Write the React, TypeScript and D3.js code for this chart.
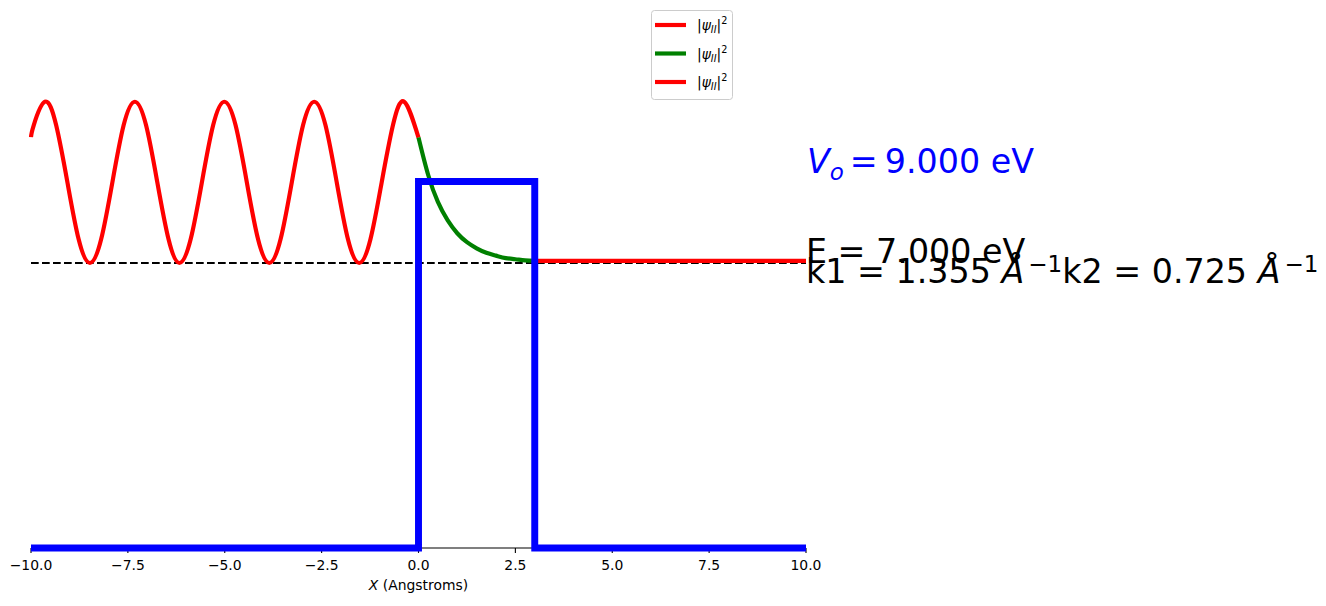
import React from "react";
import * as d3 from "d3";

// ---- data ----
const V0 = 9.0; // eV
const E = 7.0; // eV
const k1 = 1.355;
const k2 = 0.725;

// potential outline (x in Å, V in eV)
const potX = [-10, 0, 0, 3, 3, 10];
const potV = [0, 0, 9, 9, 0, 0];

// region I |ψ|² (offset above E, in eV units)
const waveIX = [
  -10, -9.93, -9.64, -9.35, -9.06, -8.77, -8.48, -8.19, -7.9, -7.61, -7.32,
  -7.03, -6.74, -6.45, -6.17, -5.88, -5.59, -5.3, -5.01, -4.72, -4.43, -4.14,
  -3.85, -3.56, -3.27, -2.98, -2.69, -2.4, -2.11, -1.82, -1.53, -1.24, -0.95,
  -0.66, -0.37, 0,
];
const waveIY = [
  3.09, 3.38, 3.96, 3.38, 1.98, 0.58, 0, 0.58, 1.98, 3.38, 3.96,
  3.38, 1.98, 0.58, 0, 0.58, 1.98, 3.38, 3.96, 3.38, 1.98, 0.58,
  0, 0.58, 1.98, 3.38, 3.96, 3.38, 1.98, 0.58, 0, 0.58, 1.98,
  3.38, 3.96, 3.08,
];

// region II |ψ|²
const waveIIX = [0, 0.25, 0.5, 0.75, 1, 1.25, 1.5, 1.75, 2, 2.25, 2.5, 2.75, 3];
const waveIIY = [3.08, 2.16, 1.5, 1.05, 0.73, 0.51, 0.36, 0.25, 0.18, 0.12, 0.09, 0.065, 0.05];

// region III |ψ|²
const waveIIIX = [3, 10];
const waveIIIY = [0.05, 0.05];

const xTicks = [-10, -7.5, -5, -2.5, 0, 2.5, 5, 7.5, 10];

// ---- layout ----
const W = 1326;
const H = 606;
const x = d3.scaleLinear().domain([-10, 10]).range([31, 806]);
const y = d3.scaleLinear().domain([0, 13.458]).range([548, 0]);

const font = "DejaVu Sans, Verdana, sans-serif";

function path(xs: number[], ys: number[], offset: number, curve: d3.CurveFactory) {
  const pts: [number, number][] = xs.map((v, i) => [v, ys[i] + offset]);
  return (
    d3
      .line<[number, number]>()
      .x((d) => x(d[0]))
      .y((d) => y(d[1]))
      .curve(curve)(pts) || ""
  );
}

const fmt = d3.format(".1f");

function PsiLabel({ lx, ly }: { lx: number; ly: number }) {
  return (
    <text x={lx} y={ly} fontFamily={font} fontSize={13.9} fill="#000">
      <tspan>|</tspan>
      <tspan fontStyle="italic">ψ</tspan>
      <tspan fontStyle="italic" fontSize={9.7} dy={3}>II</tspan>
      <tspan dy={-3}>|</tspan>
      <tspan fontSize={9.7} dy={-6}>2</tspan>
    </text>
  );
}

export default function App() {
  const legendRows = [
    { color: "#ff0000", y: 25 },
    { color: "#008000", y: 53.5 },
    { color: "#ff0000", y: 82 },
  ];
  return (
    <svg
      width={W}
      height={H}
      style={{ position: "absolute", left: 0, top: 0, display: "block", background: "#fff" }}
    >
      <rect x={0} y={0} width={W} height={H} fill="#fff" />

      {/* energy line */}
      <line
        x1={x(-10)}
        x2={x(10)}
        y1={y(E)}
        y2={y(E)}
        stroke="#000"
        strokeWidth={2.08}
        strokeDasharray="7.7,3.3"
      />

      {/* x axis spine & ticks */}
      <line x1={x(-10)} x2={x(10)} y1={548} y2={548} stroke="#000" strokeWidth={1.1} />
      {xTicks.map((t) => (
        <g key={t} transform={`translate(${x(t)},548)`}>
          <line y1={0} y2={4.9} stroke="#000" strokeWidth={1.1} />
          <text y={22} textAnchor="middle" fontFamily={font} fontSize={13.9} fill="#000">
            {fmt(t)}
          </text>
        </g>
      ))}
      <text x={x(0)} y={590} textAnchor="middle" fontFamily={font} fontSize={13.9} fill="#000">
        <tspan fontStyle="italic">X</tspan>
        <tspan> (Angstroms)</tspan>
      </text>

      {/* wavefunction regions */}
      <path d={path(waveIX, waveIY, E, d3.curveNatural)} fill="none" stroke="#ff0000" strokeWidth={4.17} />
      <path d={path(waveIIX, waveIIY, E, d3.curveNatural)} fill="none" stroke="#008000" strokeWidth={4.17} />
      <path d={path(waveIIIX, waveIIIY, E, d3.curveLinear)} fill="none" stroke="#ff0000" strokeWidth={4.17} />

      {/* potential */}
      <path
        d={path(potX, potV, 0, d3.curveLinear)}
        fill="none"
        stroke="#0000ff"
        strokeWidth={6.94}
        strokeLinejoin="miter"
      />

      {/* annotations */}
      <text x={x(10) + 1} y={y(9.2)} fontFamily={font} fontSize={33.3} fill="#0000ff">
        <tspan fontStyle="italic">V</tspan>
        <tspan fontStyle="italic" fontSize={23} dy={7}>o</tspan>
        <tspan dy={-7} dx={6}>=</tspan>
        <tspan dx={7}>{V0.toFixed(3)}</tspan>
        <tspan> eV</tspan>
      </text>
      <text x={x(10)} y={y(E)} fontFamily={font} fontSize={33.3} fill="#000">
        E = {E.toFixed(3)} eV
      </text>
      <text x={x(10)} y={y(6.5)} fontFamily={font} fontSize={33.3} fill="#000">
        <tspan>k1 = {k1.toFixed(3)} </tspan>
        <tspan fontStyle="italic">Å</tspan>
        <tspan fontSize={23} dy={-11} dx={4}>−1</tspan>
        <tspan dy={11}>k2 = {k2.toFixed(3)} </tspan>
        <tspan fontStyle="italic">Å</tspan>
        <tspan fontSize={23} dy={-11} dx={4}>−1</tspan>
      </text>

      {/* legend */}
      <rect
        x={651.5}
        y={10.5}
        width={81}
        height={89}
        rx={3}
        fill="#fff"
        fillOpacity={0.8}
        stroke="#cccccc"
        strokeWidth={1}
      />
      {legendRows.map((r, i) => (
        <g key={i}>
          <line x1={655} x2={686} y1={r.y} y2={r.y} stroke={r.color} strokeWidth={4.17} />
          <PsiLabel lx={697} ly={r.y + 5} />
        </g>
      ))}
    </svg>
  );
}
